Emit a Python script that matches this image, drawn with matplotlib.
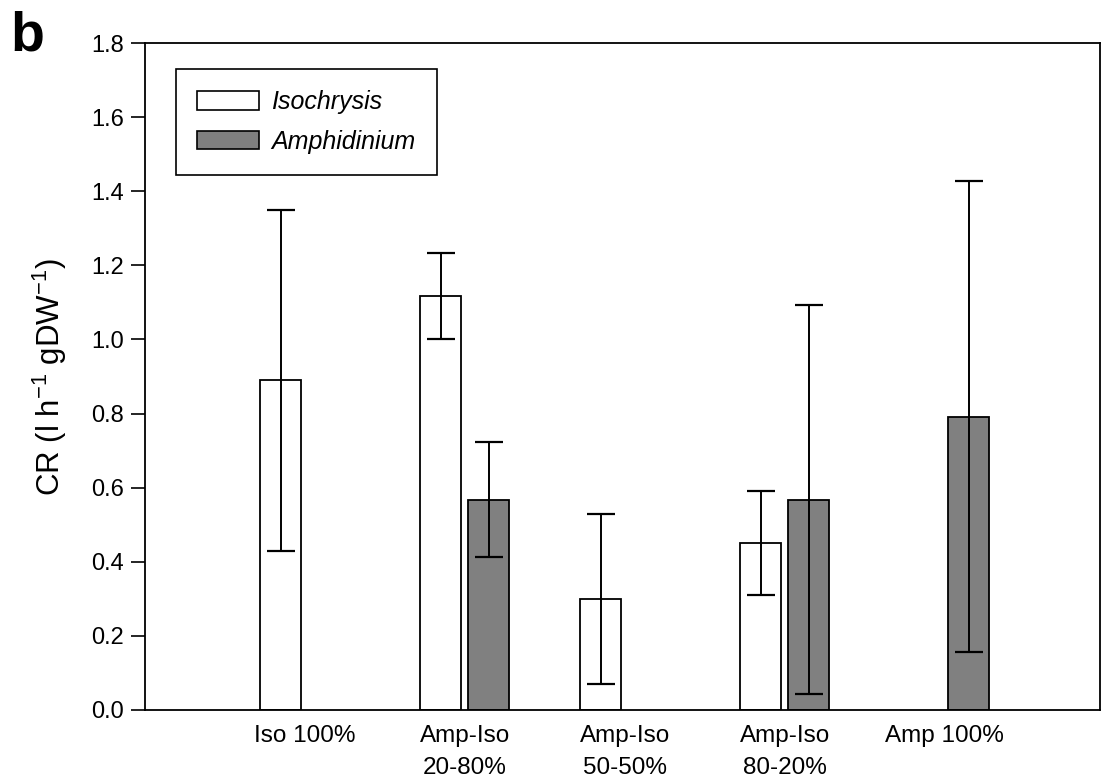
import numpy as np
import matplotlib
matplotlib.use("Agg")
import matplotlib.pyplot as plt
from matplotlib.patches import Patch

plt.rcParams['font.family'] = ['Liberation Sans', 'DejaVu Sans']
plt.rcParams['mathtext.fontset'] = 'custom'
plt.rcParams['mathtext.rm'] = 'Liberation Sans'

# Traitements (mélanges Amphidinium / Isochrysis)
traitements = ["Iso 100%", "Amp-Iso\n20-80%", "Amp-Iso\n50-50%", "Amp-Iso\n80-20%", "Amp 100%"]

# Taux de clairance par espèce (nan = espèce absente du traitement)
iso_cr = [0.89, 1.117, 0.30, 0.45, np.nan]
iso_err = [0.46, 0.116, 0.23, 0.14, np.nan]
amp_cr = [np.nan, 0.568, np.nan, 0.568, 0.792]
amp_err = [np.nan, 0.155, np.nan, 0.525, 0.636]

fig = plt.figure(figsize=(11.1, 7.82), dpi=100)
ax = fig.add_axes([0.1306, 0.0921, 0.8604, 0.8529])

x = np.arange(len(traitements))
largeur = 0.256
decalage = 0.15

ax.bar(x - decalage, iso_cr, largeur, color='white', edgecolor='black', linewidth=1.3, zorder=2)
ax.bar(x + decalage, amp_cr, largeur, color='#808080', edgecolor='black', linewidth=1.3, zorder=2)
ax.errorbar(x - decalage, iso_cr, yerr=iso_err, fmt='none', ecolor='black',
            elinewidth=1.4, capsize=10, capthick=1.6, zorder=3)
ax.errorbar(x + decalage, amp_cr, yerr=amp_err, fmt='none', ecolor='black',
            elinewidth=1.4, capsize=10, capthick=1.6, zorder=3)

ax.set_xlim(-1.0, 4.97)
ax.set_ylim(0, 1.8)
ax.set_yticks(np.arange(0, 1.81, 0.2))
ax.set_yticklabels([f"{v:.1f}" for v in np.arange(0, 1.81, 0.2)], fontsize=17)
ax.set_xticks(x)
ax.set_xticklabels(traitements, fontsize=17.5, linespacing=1.55)
ax.tick_params(axis='x', length=0, pad=11)
ax.tick_params(axis='y', direction='out', length=10, width=1.2, pad=5)
for spine in ax.spines.values():
    spine.set_linewidth(1.3)

ax.set_ylabel(r"CR (l h$^{\mathregular{-1}}$ gDW$^{\mathregular{-1}}$)", fontsize=22.5, labelpad=16)

poignees = [Patch(facecolor='white', edgecolor='black', linewidth=1.2),
            Patch(facecolor='#808080', edgecolor='black', linewidth=1.2)]
leg = ax.legend(poignees, ["Isochrysis", "Amphidinium"], loc='upper left',
                bbox_to_anchor=(0.0325, 0.961), borderaxespad=0,
                prop={'style': 'italic', 'size': 18},
                fancybox=False, edgecolor='black', framealpha=1,
                handlelength=2.45, handleheight=0.77, borderpad=0.85, labelspacing=0.62,
                handletextpad=0.5)
leg.get_frame().set_linewidth(1.2)

fig.text(0.009, 0.987, "b", fontsize=40, fontweight='bold', va='top', ha='left')

fig.savefig("out.png", dpi=100)
